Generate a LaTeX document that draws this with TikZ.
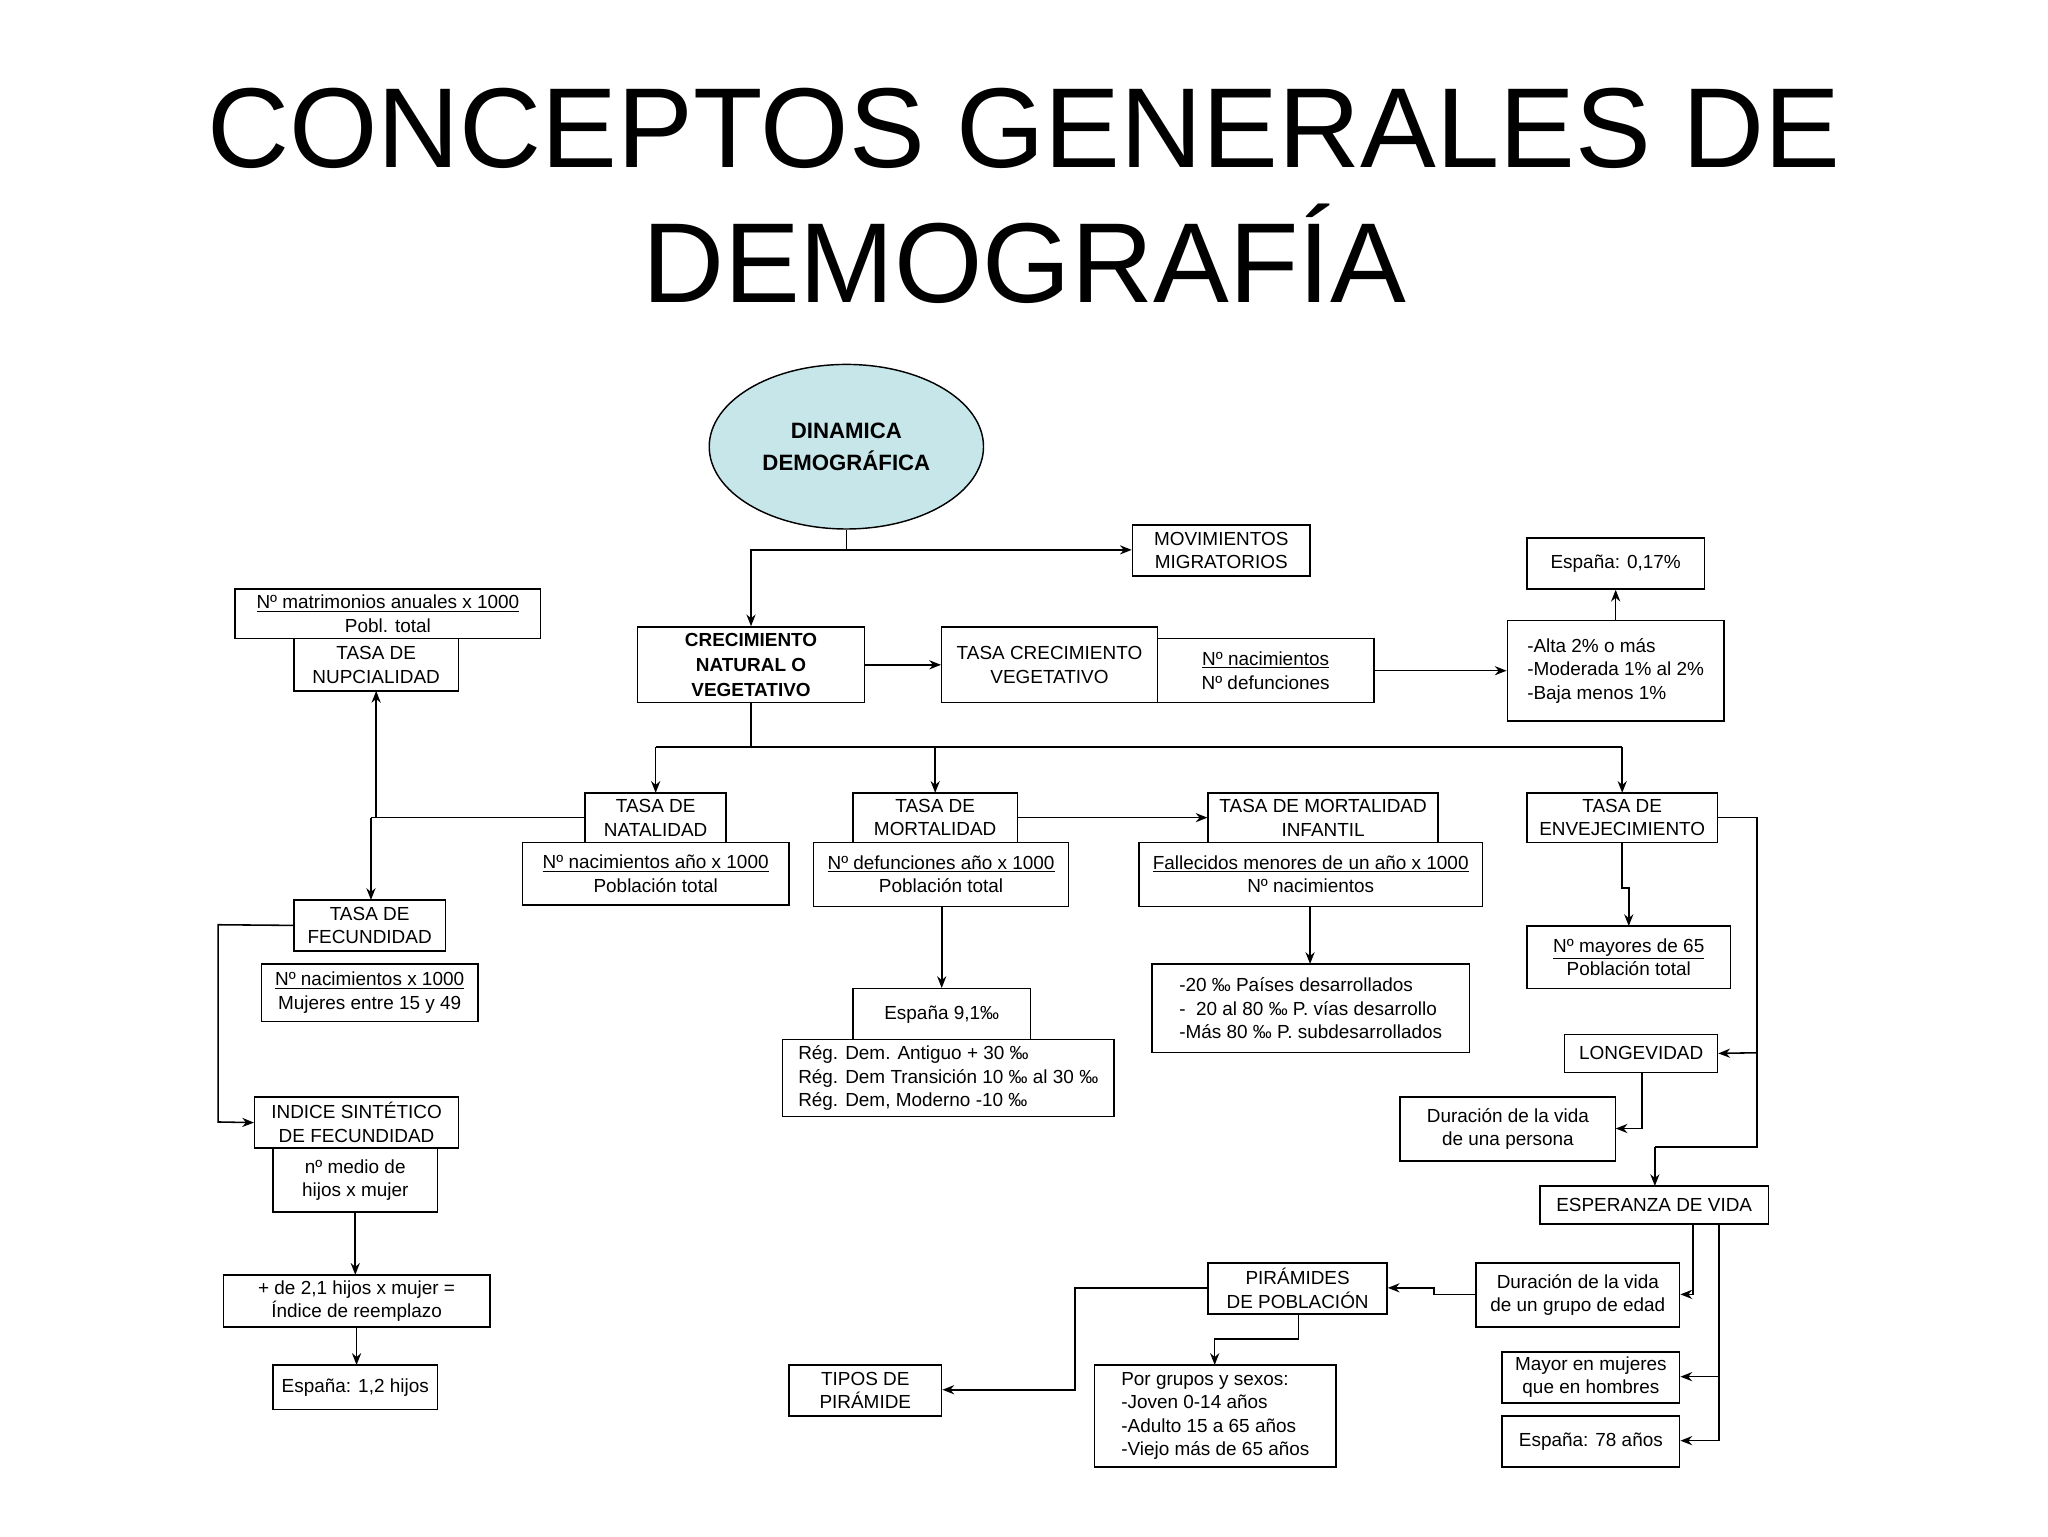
\documentclass[tikz,border=0pt]{standalone}
\usepackage{fontspec}
\setmainfont{Liberation Sans}
\usetikzlibrary{arrows.meta,shapes.geometric}
\tikzset{
 box/.style={draw,line width=1.1pt,inner sep=0pt,align=center,font=\fontsize{14.5}{18}\selectfont},
 arr/.style={line width=1.2pt,-{Stealth[length=9pt,width=7pt]}},
 ln/.style={line width=1.2pt}
}
\newcommand\bx[7][]{\node[box,#1,minimum width={(#5-#3)*1pt},minimum height={(#6-#4)*1pt}] (#2) at ({(#3+#5)/2},{(#4+#6)/2}) {#7};}
\begin{document}
\begin{tikzpicture}[x=1pt,y=-1pt]
\useasboundingbox[fill=white] (0,0) rectangle (1568,1176);
\node[font=\fontsize{87}{103}\selectfont,align=center] (title) at (784,150) {CONCEPTOS GENERALES DE\\DEMOGRAFÍA};
\node[draw,ellipse,line width=1.1pt,fill={rgb,255:red,198;green,230;blue,234},minimum width=210pt,minimum height=126pt,align=center,font=\bfseries\fontsize{17}{25}\selectfont] (din) at (648,342) {DINAMICA\\DEMOGRÁFICA};
\bx{mig}{867}{402}{1003}{441}{MOVIMIENTOS\\MIGRATORIOS}
\bx{e017}{1169}{412}{1305}{451}{España: 0,17\%}
\bx{matr}{180}{451}{414}{489}{\underline{Nº matrimonios anuales x 1000}\\Pobl. total}
\bx{nup}{225}{489}{351}{529}{TASA DE\\NUPCIALIDAD}
\bx[font=\bfseries\fontsize{14.5}{19}\selectfont]{crec}{488}{480}{662}{538}{CRECIMIENTO\\NATURAL O\\VEGETATIVO}
\bx{tcv}{721}{480}{886}{538}{TASA CRECIMIENTO\\VEGETATIVO}
\bx{ndf}{886}{489}{1052}{538}{\underline{Nº nacimientos}\\Nº defunciones}
\bx[align=left]{alta}{1154}{475}{1320}{552}{-Alta 2\% o más\\-Moderada 1\% al 2\%\\-Baja menos 1\%}
\bx{nat}{448}{607}{556}{645}{TASA DE\\NATALIDAD}
\bx{natf}{400}{645}{604}{693}{\underline{Nº nacimientos año x 1000}\\Población total}
\bx{mor}{653}{607}{779}{645}{TASA DE\\MORTALIDAD}
\bx{morf}{623}{645}{818}{694}{\underline{Nº defunciones año x 1000}\\Población total}
\bx{inf}{925}{607}{1101}{645}{TASA DE MORTALIDAD\\INFANTIL}
\bx{inff}{872}{645}{1135}{694}{\underline{Fallecidos menores de un año x 1000}\\Nº nacimientos}
\bx{env}{1169}{607}{1315}{645}{TASA DE\\ENVEJECIMIENTO}
\bx{envf}{1169}{709}{1325}{757}{\underline{Nº mayores de 65}\\Población total}
\bx{fec}{225}{689}{341}{728}{TASA DE\\FECUNDIDAD}
\bx{fecf}{200}{738}{366}{782}{\underline{Nº nacimientos x 1000}\\Mujeres entre 15 y 49}
\bx{e91}{653}{757}{789}{796}{España 9,1‰}
\bx[align=left]{reg}{599}{796}{853}{855}{Rég. Dem. Antiguo + 30 ‰\\Rég. Dem Transición 10 ‰ al 30 ‰\\Rég. Dem, Moderno -10 ‰}
\bx[align=left]{paises}{882}{738}{1125}{806}{-20 ‰ Países desarrollados\\- \ 20 al 80 ‰ P. vías desarrollo\\-Más 80 ‰ P. subdesarrollados}
\bx{lon}{1198}{792}{1315}{821}{LONGEVIDAD}
\bx{durp}{1072}{840}{1237}{889}{Duración de la vida\\de una persona}
\bx{isf}{195}{840}{351}{879}{INDICE SINTÉTICO\\DE FECUNDIDAD}
\bx{med}{209}{879}{335}{928}{nº medio de\\hijos x mujer}
\bx{esp}{1179}{908}{1354}{937}{ESPERANZA DE VIDA}
\bx{reemp}{171}{976}{375}{1016}{+ de 2,1 hijos x mujer =\\Índice de reemplazo}
\bx{pir}{925}{967}{1062}{1006}{PIRÁMIDES\\DE POBLACIÓN}
\bx{durg}{1130}{967}{1286}{1016}{Duración de la vida\\de un grupo de edad}
\bx{tipos}{604}{1045}{721}{1084}{TIPOS DE\\PIRÁMIDE}
\bx[align=left]{grup}{838}{1045}{1023}{1123}{Por grupos y sexos:\\-Joven 0-14 años\\-Adulto 15 a 65 años\\-Viejo más de 65 años}
\bx{muj}{1150}{1035}{1286}{1074}{Mayor en mujeres\\que en hombres}
\bx{e78}{1150}{1084}{1286}{1123}{España: 78 años}
\bx{e12}{209}{1045}{335}{1079}{España: 1,2 hijos}
% connectors
\coordinate (j1) at (648,421);
\draw[ln] (din.south) -- (j1);
\draw[arr] (j1) -- (mig.west |- j1);
\draw[arr] (j1) -| (crec.north);
\draw[arr] (crec.east) -- (tcv.west);
\draw[arr] (ndf.east) -- (alta.west |- ndf.east);
\draw[arr] (alta.north -| e017) -- (e017.south);
\coordinate (j2) at (575,572);
\draw[ln] (crec.south) -- (j2);
\draw[ln] (502,572) -- (1242,572);
\draw[arr] (502,572) -- (502,607);
\draw[arr] (716,572) -- (716,607);
\draw[arr] (1242,572) -- (1242,607);
\draw[arr] (mor.east) -- (inf.west);
\coordinate (j3) at (288,626);
\draw[ln] (nat.west) -- (j3) -- (284,626);
\draw[arr] (j3) -- (288,529);
\draw[arr] (284,626) -- (284,689);
\coordinate (m1) at (721,694);
\draw[arr] (m1) -- (e91.north -| m1);
\draw[arr] (1003,694) -- (1003,738);
\draw[arr] (1242,645) -- (1242,680) -- (1247,680) -- (1247,709);
\draw[ln] (env.east) -- (1345,626) -- (1345,878) -- (1267,878);
\draw[arr] (1345,806) -- (lon.east);
\draw[arr] (1267,878) -- (1267,908);
\draw[arr] (1257,821) -- (1257,864) -- (1237,864);
\draw[arr] (fec.west) -- (167,708) -- (167,859) -- (isf.west);
\draw[arr] (272,928) -- (272,976);
\draw[arr] (273,1016) -- (273,1045);
\draw[arr] (1296,937) -- (1296,991) -- (durg.east |- 0,991);
\draw[arr] (1316,937) -- (1316,1054) -- (muj.east |- 0,1054);
\draw[arr] (1316,1054) -- (1316,1103) -- (e78.east |- 0,1103);
\draw[arr] (durg.west |- 0,991) -- (1098,991) -- (1098,986) -- (pir.east |- 0,986);
\draw[arr] (994,1006) -- (994,1025) -- (930,1025) -- (930,1045);
\draw[arr] (pir.west |- 0,986) -- (823,986) -- (823,1064) -- (tipos.east |- 0,1064);
\end{tikzpicture}
\end{document}
